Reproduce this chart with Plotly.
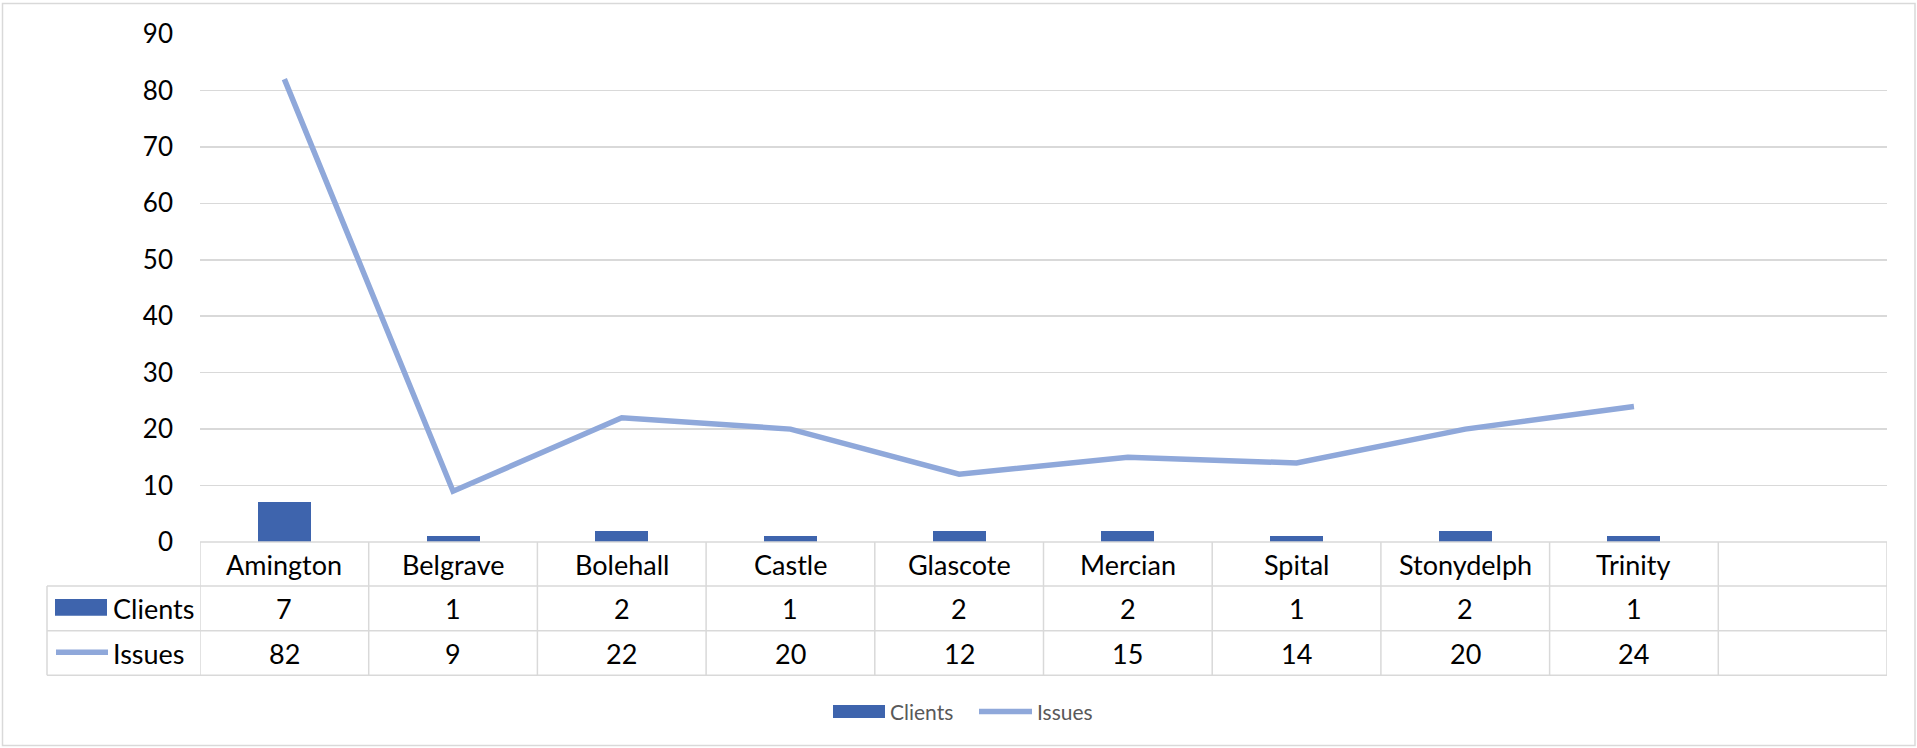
import plotly.graph_objects as go

# ---- data ----
categories = ["Amington", "Belgrave", "Bolehall", "Castle", "Glascote",
              "Mercian", "Spital", "Stonydelph", "Trinity"]
clients = [7, 1, 2, 1, 2, 2, 1, 2, 1]
issues = [82, 9, 22, 20, 12, 15, 14, 20, 24]
y_ticks = [0, 10, 20, 30, 40, 50, 60, 70, 80, 90]
series_names = ["Clients", "Issues"]

# ---- styling ----
W, H = 1917, 748
ML, MR, MT, MB = 200, 30, 34, 206
PW, PH = W - ML - MR, H - MT - MB
BAR_COLOR = "#3E64AD"
LINE_COLOR = "#8FA8DA"
GRID = "#D9D9D9"
FONT = "Lato"
LW = 5.5
N_SLOTS = 10  # Excel leaves one empty slot at the right


def px_x(x):
    return (x - ML) / PW


def px_y(y):
    return (H - MB - y) / PH


fig = go.Figure()
fig.add_trace(go.Bar(x=categories, y=clients, name=series_names[0],
                     marker=dict(color=BAR_COLOR, line=dict(width=0)),
                     width=0.314))
fig.add_trace(go.Scatter(x=categories, y=issues, name=series_names[1],
                         mode="lines",
                         line=dict(color=LINE_COLOR, width=LW)))

shapes = []
annotations = []

# table geometry (pixels)
row_top, row1, row2, row3 = 542, 586, 630.7, 675.3
left_px = 47

line_style = dict(color=GRID, width=1.5)
# horizontal lines
shapes.append(dict(type="line", xref="paper", yref="paper",
                   x0=0, x1=1, y0=px_y(row_top), y1=px_y(row_top), line=line_style))
for yy in (row1, row2, row3):
    shapes.append(dict(type="line", xref="paper", yref="paper",
                       x0=px_x(left_px), x1=1, y0=px_y(yy), y1=px_y(yy), line=line_style))
# vertical lines at column boundaries
for i in range(N_SLOTS + 1):
    xb = i - 0.5
    shapes.append(dict(type="line", xref="x", yref="paper",
                       x0=xb, x1=xb, y0=px_y(row_top), y1=px_y(row3), line=line_style))
shapes.append(dict(type="line", xref="paper", yref="paper",
                   x0=px_x(left_px), x1=px_x(left_px), y0=px_y(row1), y1=px_y(row3),
                   line=line_style))

tfont = dict(family=FONT, size=27, color="#000000")
for i, c in enumerate(categories):
    annotations.append(dict(x=i, y=px_y((row_top + row1) / 2), xref="x", yref="paper",
                            text=c, showarrow=False, font=tfont,
                            xanchor="center", yanchor="middle"))
    annotations.append(dict(x=i, y=px_y((row1 + row2) / 2), xref="x", yref="paper",
                            text=str(clients[i]), showarrow=False, font=tfont,
                            xanchor="center", yanchor="middle"))
    annotations.append(dict(x=i, y=px_y((row2 + row3) / 2), xref="x", yref="paper",
                            text=str(issues[i]), showarrow=False, font=tfont,
                            xanchor="center", yanchor="middle"))

# legend keys inside the table
shapes.append(dict(type="rect", xref="paper", yref="paper",
                   x0=px_x(55), x1=px_x(107), y0=px_y(599), y1=px_y(615.7),
                   fillcolor=BAR_COLOR, line=dict(width=0)))
shapes.append(dict(type="line", xref="paper", yref="paper",
                   x0=px_x(56), x1=px_x(108), y0=px_y(652.3), y1=px_y(652.3),
                   line=dict(color=LINE_COLOR, width=LW)))
annotations.append(dict(x=px_x(111), y=px_y((row1 + row2) / 2), xref="paper", yref="paper",
                        text=series_names[0], showarrow=False, font=tfont,
                        xanchor="left", yanchor="middle"))
annotations.append(dict(x=px_x(111), y=px_y((row2 + row3) / 2), xref="paper", yref="paper",
                        text=series_names[1], showarrow=False, font=tfont,
                        xanchor="left", yanchor="middle"))

# bottom legend
lfont = dict(family=FONT, size=21, color="#595959")
ly = 711.5
shapes.append(dict(type="rect", xref="paper", yref="paper",
                   x0=px_x(833), x1=px_x(885), y0=px_y(ly - 6.5), y1=px_y(ly + 6.5),
                   fillcolor=BAR_COLOR, line=dict(width=0)))
annotations.append(dict(x=px_x(888), y=px_y(ly), xref="paper", yref="paper",
                        text=series_names[0], showarrow=False, font=lfont,
                        xanchor="left", yanchor="middle"))
shapes.append(dict(type="line", xref="paper", yref="paper",
                   x0=px_x(979), x1=px_x(1032), y0=px_y(ly), y1=px_y(ly),
                   line=dict(color=LINE_COLOR, width=LW)))
annotations.append(dict(x=px_x(1035), y=px_y(ly), xref="paper", yref="paper",
                        text=series_names[1], showarrow=False, font=lfont,
                        xanchor="left", yanchor="middle"))

# outer chart border
shapes.append(dict(type="rect", xref="paper", yref="paper",
                   x0=px_x(2.5), x1=px_x(1915), y0=px_y(3.5), y1=px_y(745.5),
                   line=dict(color=GRID, width=1.5), fillcolor="rgba(0,0,0,0)"))

fig.update_layout(
    width=W, height=H,
    margin=dict(l=ML, r=MR, t=MT, b=MB, pad=0),
    paper_bgcolor="white", plot_bgcolor="white",
    showlegend=False,
    bargap=0,
    font=dict(family=FONT, size=26, color="#000000"),
    xaxis=dict(type="category", categoryorder="array", categoryarray=categories,
               range=[-0.5, N_SLOTS - 0.5], showticklabels=False, showgrid=False,
               zeroline=False, showline=False, ticks="", automargin=False,
               fixedrange=True),
    yaxis=dict(range=[0, 90], tickvals=y_ticks, showgrid=True, gridcolor=GRID,
               gridwidth=1.5, zeroline=False, showline=False, ticks="",
               ticklabelstandoff=26, tickfont=dict(family=FONT, size=26, color="#000000"),
               automargin=False, fixedrange=True),
    shapes=shapes,
    annotations=annotations,
)

fig.write_html("out.html",
               config={"displayModeBar": False, "staticPlot": True},
               post_script="document.body.style.margin='0';document.body.style.overflow='hidden';")
